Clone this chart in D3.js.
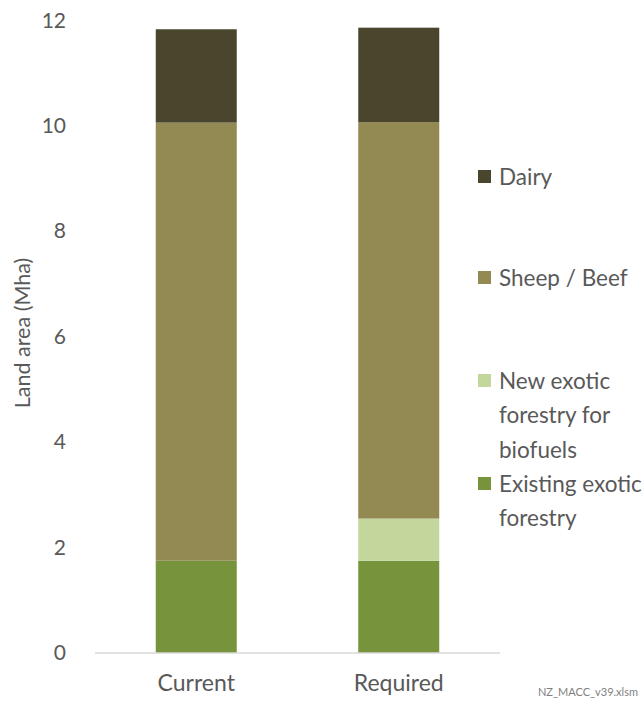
<!DOCTYPE html>
<html><head><meta charset="utf-8">
<script src="https://cdn.jsdelivr.net/npm/d3@7"></script>
<style>body{margin:0;background:#fff;} svg text{font-family:Lato,"Open Sans",sans-serif;}</style>
</head><body><svg id="c" width="644" height="711"></svg>
<script>
const categories = ["Current", "Required"];
const seriesNames = ["Existing exotic forestry", "New exotic forestry for biofuels", "Sheep / Beef", "Dairy"];
const existingExotic = [1.75, 1.75];
const newExotic = [0, 0.80];
const sheepBeef = [8.31, 7.52];
const dairy = [1.77, 1.79];
const yTicks = [0, 2, 4, 6, 8, 10, 12];
const colors = ["#77933c", "#c3d69b", "#938953", "#4a452d"];

const svg = d3.select("#c");
const mLeft = 95, mRight = 500, mTop = 20, mBottom = 653;
const x = d3.scaleBand().domain(categories).range([mLeft, mRight]).paddingInner(0.6).paddingOuter(0.3);
const y = d3.scaleLinear().domain([0, 12]).range([mBottom, mTop + 0.3]);

const table = categories.map((c, i) => ({cat: c, s0: existingExotic[i], s1: newExotic[i], s2: sheepBeef[i], s3: dairy[i]}));
const stack = d3.stack().keys(["s0", "s1", "s2", "s3"])(table);

svg.append("g").selectAll("g").data(stack).join("g")
  .attr("fill", (d, i) => colors[i])
  .selectAll("rect").data(d => d).join("rect")
  .attr("x", d => x(d.data.cat))
  .attr("width", x.bandwidth())
  .attr("y", d => y(d[1]))
  .attr("height", d => y(d[0]) - y(d[1]));

// y tick labels
const ya = svg.append("g").attr("transform", `translate(${mLeft},0)`)
  .call(d3.axisLeft(y).tickValues(yTicks).tickSize(0).tickPadding(29));
ya.select(".domain").remove();
ya.selectAll("text").attr("font-size", 21).attr("fill", "#595959").style("font-family", "Lato, sans-serif");

// x axis
const xa = svg.append("g").attr("transform", `translate(0,${mBottom})`)
  .call(d3.axisBottom(x).tickSize(0).tickPadding(22));
xa.select(".domain").attr("stroke", "#d9d9d9").attr("stroke-width", 1.5).attr("d", `M${mLeft},0H${mRight}`);
xa.selectAll("text").attr("font-size", 23).attr("fill", "#595959").style("font-family", "Lato, sans-serif");

// y title
svg.append("text").attr("transform", "translate(30,333) rotate(-90)")
  .attr("text-anchor", "middle").attr("font-size", 21.5).attr("fill", "#595959")
  .text("Land area (Mha)");

// legend
const legend = [
  {i: 3, lines: ["Dairy"], y: 177},
  {i: 2, lines: ["Sheep / Beef"], y: 278},
  {i: 1, lines: ["New exotic", "forestry for", "biofuels"], y: 381},
  {i: 0, lines: ["Existing exotic", "forestry"], y: 484}
];
const lg = svg.append("g");
legend.forEach(l => {
  lg.append("rect").attr("x", 478).attr("y", l.y - 7).attr("width", 13).attr("height", 13).attr("fill", colors[l.i]);
  const t = lg.append("text").attr("x", 499).attr("y", l.y)
    .attr("font-size", 22.5).attr("fill", "#595959");
  l.lines.forEach((s, k) => t.append("tspan").attr("x", 499).attr("dy", k === 0 ? "0.35em" : 34.5).text(s));
});

svg.append("text").attr("x", 638).attr("y", 696).attr("text-anchor", "end")
  .attr("font-size", 11).attr("fill", "#7f7f7f").text("NZ_MACC_v39.xlsm");
</script></body></html>
